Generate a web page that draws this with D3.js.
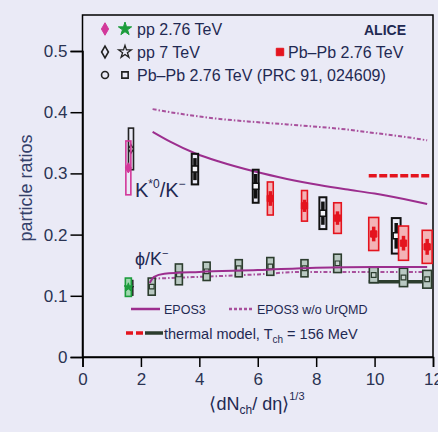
<!DOCTYPE html>
<html><head><meta charset="utf-8">
<script src="https://cdn.jsdelivr.net/npm/d3@7"></script>
<style>
html,body{margin:0;padding:0;background:#eaeaf6;}
svg{display:block;}
text{font-family:"Liberation Sans",Arial,sans-serif;}
</style></head><body>
<svg id="chart" width="438" height="432"></svg>
<script>
// ---- data ----
const xTicks = [0, 2, 4, 6, 8, 10, 12];
const xTickLabels = ["0", "2", "4", "6", "8", "10", "12"];
const yTicks = [0, 0.1, 0.2, 0.3, 0.4, 0.5];
const yTickLabels = ["0", "0.1", "0.2", "0.3", "0.4", "0.5"];

// pp reference points (2.76 TeV, 7 TeV)
const ppX = [1.57, 1.66];
const ppKstar = [0.309, 0.340];
const ppKstarSys = [0.044, 0.034];
const ppPhiX = [1.57, 1.62];
const ppPhi = [0.114, 0.113];
const ppPhiSys = [0.015, 0.012];

// Pb-Pb 2.76 TeV K*0/K- (new)
const pbX = [6.43, 7.6, 8.73, 9.97, 10.99, 11.8];
const pbKstar = [0.259, 0.247, 0.227, 0.201, 0.186, 0.180];
const pbKstarSys = [0.027, 0.025, 0.025, 0.027, 0.028, 0.027];
const pbKstarStat = [0.012, 0.010, 0.011, 0.012, 0.012, 0.013];
const pbKstarDx = [0.10, 0.10, 0.13, 0.17, 0.17, 0.17];

// Pb-Pb 2.76 TeV K*0/K- (PRC 91, 024609)
const prcX = [3.85, 5.93, 8.23, 10.74];
const prcKstar = [0.307, 0.279, 0.235, 0.198];
const prcKstarSys = [0.025, 0.027, 0.026, 0.029];
const prcKstarStat = [0.018, 0.020, 0.019, 0.021];
const prcKstarDx = [0.11, 0.10, 0.12, 0.15];

// Pb-Pb 2.76 TeV phi/K-
const phiX = [2.37, 3.3, 4.25, 5.35, 6.43, 7.6, 8.73, 9.97, 10.99, 11.8];
const phiK = [0.115, 0.135, 0.140, 0.145, 0.148, 0.145, 0.153, 0.134, 0.130, 0.127];
const phiKSys = [0.014, 0.017, 0.015, 0.014, 0.0145, 0.014, 0.015, 0.0125, 0.015, 0.0145];
const phiKDx = [0.12, 0.12, 0.12, 0.12, 0.12, 0.12, 0.13, 0.15, 0.14, 0.15];

// EPOS3 curves
const eposKX = [2.4, 3.0, 3.85, 4.7, 5.9, 7.0, 8.1, 9.0, 10.0, 11.0, 11.8];
const eposKstar = [0.368, 0.352, 0.333, 0.319, 0.303, 0.291, 0.281, 0.274, 0.267, 0.258, 0.250];
const eposNoUrqmdKstar = [0.405, 0.400, 0.394, 0.389, 0.384, 0.380, 0.376, 0.372, 0.366, 0.360, 0.354];
const eposPhiX = [2.3, 2.45, 2.8, 4.0, 6.0, 8.0, 10.0, 11.8];
const eposPhi = [0.121, 0.131, 0.136, 0.139, 0.142, 0.146, 0.147, 0.147];
const eposNoUrqmdPhiX = [2.4, 4.0, 6.0, 7.5, 9.0, 11.8];
const eposNoUrqmdPhi = [0.128, 0.131, 0.135, 0.139, 0.139, 0.139];

// thermal model, Tch = 156 MeV
const thermalX = [9.8, 11.95];
const thermalKstar = 0.296;
const thermalPhi = 0.123;

// ---- drawing ----
const svg = d3.select("#chart");
const x = d3.scaleLinear().domain([0, 12]).range([82.5, 433]);
const y = d3.scaleLinear().domain([0, 0.5]).range([357, 51]);
const yTop = y.invert(15);

const C = {
  text: "#1f2952", tick: "#2a3352", epos: "#9c2e8e", eposDot: "#a8509c",
  red: "#e4141e", pink: "#f3b3b6", green: "#2c3d2e", greenFill: "#b9c9c2",
  magenta: "#d2389a", ppGreen: "#1c9c3c"
};

svg.append("rect").attr("width", 438).attr("height", 432).attr("fill", "#eaeaf6");

// frame
svg.append("rect")
  .attr("x", x(0)).attr("y", y(yTop))
  .attr("width", x(12) - x(0)).attr("height", y(0) - y(yTop))
  .attr("fill", "none").attr("stroke", "#000").attr("stroke-width", 1.5);

// axes
const gx = svg.append("g").attr("transform", `translate(0,${y(0)})`)
  .call(d3.axisBottom(x).tickValues(xTicks).tickSize(10).tickPadding(6)
    .tickFormat((d, i) => xTickLabels[i]));
const gy = svg.append("g").attr("transform", `translate(${x(0)},0)`)
  .call(d3.axisLeft(y).tickValues(yTicks).tickSize(12).tickPadding(3)
    .tickFormat((d, i) => yTickLabels[i]));
[gx, gy].forEach(g => {
  g.select(".domain").attr("stroke", "#000").attr("stroke-width", 1.5);
  g.selectAll(".tick line").attr("stroke", "#000").attr("stroke-width", 1.5);
  g.selectAll(".tick text").attr("font-size", 17).attr("fill", C.tick)
    .attr("font-family", '"Liberation Sans", Arial, sans-serif');
});

// axis titles
svg.append("text").attr("transform", "translate(32,188) rotate(-90)")
  .attr("text-anchor", "middle").attr("font-size", 18).attr("fill", "#34406a")
  .text("particle ratios");

const xl = svg.append("text").attr("x", 257).attr("y", 410)
  .attr("text-anchor", "middle").attr("font-size", 18).attr("fill", C.text);
xl.append("tspan").text("\u27E8dN");
xl.append("tspan").attr("font-size", 12).attr("dy", 4).text("ch");
xl.append("tspan").attr("dy", -4).text("/ d\u03B7\u27E9");
xl.append("tspan").attr("font-size", 11).attr("dy", -10).text("1/3");

// model curves
const line = d3.line().x(d => x(d[0])).y(d => y(d[1])).curve(d3.curveMonotoneX);
const pts = (xs, ys) => xs.map((v, i) => [v, ys[i]]);

svg.append("path").attr("d", line(pts(eposKX, eposNoUrqmdKstar)))
  .attr("fill", "none").attr("stroke", C.eposDot).attr("stroke-width", 2)
  .attr("stroke-dasharray", "4,2,1.5,2");
svg.append("path").attr("d", line(pts(eposNoUrqmdPhiX, eposNoUrqmdPhi)))
  .attr("fill", "none").attr("stroke", C.eposDot).attr("stroke-width", 2)
  .attr("stroke-dasharray", "4,2,1.5,2");

// thermal model
svg.append("line").attr("x1", x(thermalX[0])).attr("x2", x(thermalX[1]))
  .attr("y1", y(thermalKstar)).attr("y2", y(thermalKstar))
  .attr("stroke", C.red).attr("stroke-width", 3.5).attr("stroke-dasharray", "8,2.5");
svg.append("line").attr("x1", x(thermalX[0])).attr("x2", x(thermalX[1]))
  .attr("y1", y(thermalPhi)).attr("y2", y(thermalPhi))
  .attr("stroke", C.green).attr("stroke-width", 3.5);

// data point helper: systematic box, statistical bar, marker
function points(xs, ys, sys, dx, stat, style) {
  const g = svg.append("g");
  xs.forEach((xv, i) => {
    const hw = dx ? Math.max(2.5, x(xv + dx[i]) - x(xv)) : style.hw;
    g.append("rect")
      .attr("x", x(xv) - hw).attr("width", 2 * hw)
      .attr("y", y(ys[i] + sys[i])).attr("height", y(ys[i] - sys[i]) - y(ys[i] + sys[i]))
      .attr("fill", style.boxFill).attr("stroke", style.boxStroke)
      .attr("stroke-width", style.boxWidth);
    if (stat) {
      g.append("line").attr("x1", x(xv)).attr("x2", x(xv))
        .attr("y1", y(ys[i] + stat[i])).attr("y2", y(ys[i] - stat[i]))
        .attr("stroke", style.statColor).attr("stroke-width", style.statWidth);
    }
    g.append("path").attr("transform", `translate(${x(xv)},${y(ys[i])})`)
      .attr("d", d3.symbol().type(style.symbol).size(style.size)())
      .attr("fill", style.fill).attr("stroke", style.stroke)
      .attr("stroke-width", style.strokeWidth);
  });
}

// phi/K- Pb-Pb
points(phiX, phiK, phiKSys, phiKDx, null, {
  boxFill: C.greenFill, boxStroke: C.green, boxWidth: 1.6,
  symbol: d3.symbolSquare, size: 22, fill: "#c8d4cf", stroke: C.green, strokeWidth: 1.2
});

// EPOS3 solid curves
svg.append("path").attr("d", line(pts(eposKX, eposKstar)))
  .attr("fill", "none").attr("stroke", C.epos).attr("stroke-width", 2);
svg.append("path").attr("d", line(pts(eposPhiX, eposPhi)))
  .attr("fill", "none").attr("stroke", C.epos).attr("stroke-width", 2);

// pp points
points([ppX[1]], [ppKstar[1]], [ppKstarSys[1]], null, null, {
  hw: 2.5, boxFill: "none", boxStroke: "#222", boxWidth: 1.6,
  symbol: d3.symbolDiamond, size: 22, fill: "#ddd", stroke: "#222", strokeWidth: 1.2
});
points([ppX[0]], [ppKstar[0]], [ppKstarSys[0]], null, null, {
  hw: 2.5, boxFill: "none", boxStroke: C.magenta, boxWidth: 1.6,
  symbol: d3.symbolDiamond, size: 30, fill: C.magenta, stroke: C.magenta, strokeWidth: 1
});
points([ppPhiX[1]], [ppPhi[1]], [ppPhiSys[1]], null, null, {
  hw: 3, boxFill: "none", boxStroke: "#222", boxWidth: 1.5,
  symbol: d3.symbolStar, size: 20, fill: "none", stroke: "#222", strokeWidth: 1
});
points([ppPhiX[0]], [ppPhi[0]], [ppPhiSys[0]], null, null, {
  hw: 3, boxFill: "#9fd8ae", boxStroke: C.ppGreen, boxWidth: 1.6,
  symbol: d3.symbolStar, size: 22, fill: C.ppGreen, stroke: C.ppGreen, strokeWidth: 1
});

// K*0/K- Pb-Pb (PRC 91, 024609)
points(prcX, prcKstar, prcKstarSys, prcKstarDx, prcKstarStat, {
  boxFill: "none", boxStroke: "#111", boxWidth: 2,
  statColor: "#111", statWidth: 3.5,
  symbol: d3.symbolSquare, size: 36, fill: "#f4f4f8", stroke: "#111", strokeWidth: 1.5
});

// K*0/K- Pb-Pb (new)
points(pbX, pbKstar, pbKstarSys, pbKstarDx, pbKstarStat, {
  boxFill: C.pink, boxStroke: C.red, boxWidth: 1.6,
  statColor: C.red, statWidth: 3.5,
  symbol: d3.symbolSquare, size: 40, fill: C.red, stroke: C.red, strokeWidth: 1
});

// ratio labels
const kl = svg.append("text").attr("x", 135).attr("y", 197).attr("font-size", 20).attr("fill", C.text);
kl.append("tspan").text("K");
kl.append("tspan").attr("font-size", 12).attr("dy", -9).text("*0");
kl.append("tspan").attr("dy", 9).text("/K");
kl.append("tspan").attr("font-size", 12).attr("dy", -9).text("\u2212");

const pl = svg.append("text").attr("x", 135).attr("y", 265).attr("font-size", 18).attr("fill", C.text);
pl.append("tspan").text("\u03D5/K");
pl.append("tspan").attr("font-size", 11).attr("dy", -8).text("\u2212");

// legend (top)
const sym = (type, size, cx, cy, fill, stroke, sw) =>
  svg.append("path").attr("transform", `translate(${cx},${cy})`)
    .attr("d", d3.symbol().type(type).size(size)())
    .attr("fill", fill).attr("stroke", stroke).attr("stroke-width", sw);

sym(d3.symbolDiamond, 45, 105, 29, C.magenta, C.magenta, 1);
sym(d3.symbolStar, 55, 125, 29, C.ppGreen, C.ppGreen, 1);
sym(d3.symbolDiamond, 40, 105, 52, "none", "#222", 1.6);
sym(d3.symbolStar, 50, 125, 52, "none", "#222", 1.3);
sym(d3.symbolCircle, 38, 105, 75, "none", "#222", 1.6);
sym(d3.symbolSquare, 40, 125, 75, "none", "#222", 1.6);
sym(d3.symbolSquare, 55, 280, 52, C.red, C.red, 1);

const legendRows = ["pp 2.76 TeV", "pp 7 TeV", "Pb\u2013Pb 2.76 TeV (PRC 91, 024609)"];
legendRows.forEach((t, i) => {
  svg.append("text").attr("x", 137).attr("y", 35 + 23 * i)
    .attr("font-size", 16).attr("fill", C.text).text(t);
});
svg.append("text").attr("x", 288).attr("y", 58).attr("font-size", 16)
  .attr("fill", C.text).text("Pb\u2013Pb 2.76 TeV");
svg.append("text").attr("x", 406).attr("y", 35).attr("text-anchor", "end")
  .attr("font-size", 14).attr("font-weight", "bold").attr("fill", C.text).text("ALICE");

// legend (bottom)
svg.append("line").attr("x1", 131).attr("x2", 160).attr("y1", 309).attr("y2", 309)
  .attr("stroke", C.epos).attr("stroke-width", 2.5);
svg.append("text").attr("x", 164).attr("y", 313.5).attr("font-size", 12.5)
  .attr("fill", C.text).text("EPOS3");
svg.append("line").attr("x1", 229).attr("x2", 252).attr("y1", 309).attr("y2", 309)
  .attr("stroke", C.eposDot).attr("stroke-width", 2.5).attr("stroke-dasharray", "3,2");
svg.append("text").attr("x", 257).attr("y", 313.5).attr("font-size", 12.5)
  .attr("fill", C.text).text("EPOS3 w/o UrQMD");

svg.append("line").attr("x1", 126).attr("x2", 145).attr("y1", 333).attr("y2", 333)
  .attr("stroke", C.red).attr("stroke-width", 3.5).attr("stroke-dasharray", "7,3");
svg.append("line").attr("x1", 145).attr("x2", 163).attr("y1", 333).attr("y2", 333)
  .attr("stroke", C.green).attr("stroke-width", 3.5);
const th = svg.append("text").attr("x", 164).attr("y", 338.5).attr("font-size", 14.5).attr("fill", C.text);
th.append("tspan").text("thermal model, T");
th.append("tspan").attr("font-size", 10).attr("dy", 4).text("ch");
th.append("tspan").attr("dy", -4).text(" = 156 MeV");
</script></body></html>
